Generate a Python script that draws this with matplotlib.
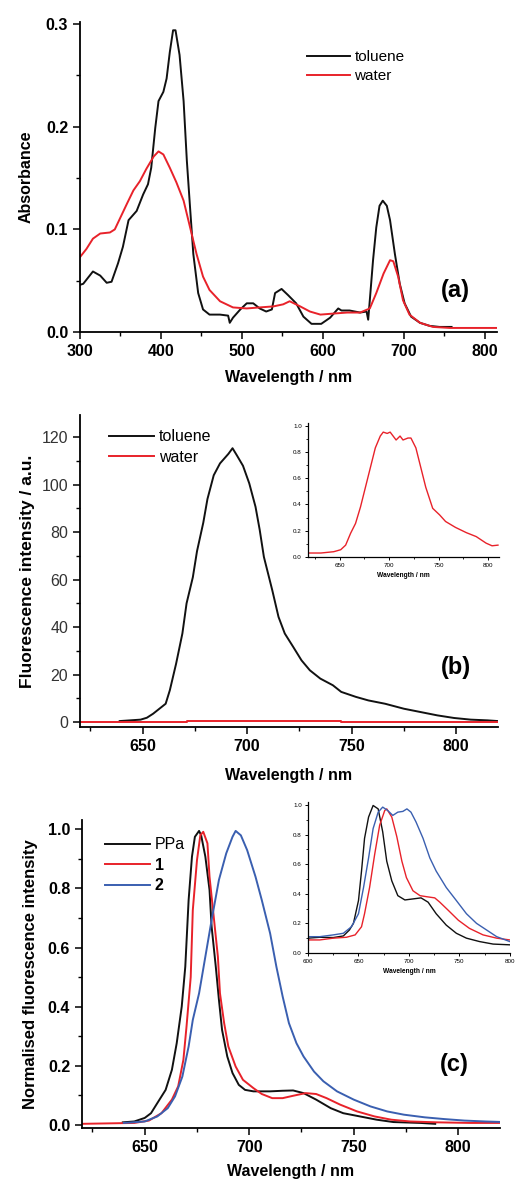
import matplotlib
matplotlib.use("Agg")
import matplotlib.pyplot as plt
from matplotlib.ticker import MultipleLocator

plt.rcParams["font.family"] = ["Liberation Sans", "DejaVu Sans"]

# ---- panel (a): absorbance ----
abs_tol_x = [300, 304, 316, 325, 333, 339, 347, 353, 360, 370, 378, 384, 388, 393, 397, 403,
             407, 411, 415, 418, 423, 428, 432, 436, 440, 446, 452, 460, 473, 483, 485, 489,
             498, 506, 514, 522, 530, 537, 541, 549, 557, 567, 576, 586, 598, 609, 619, 623,
             633, 646, 654, 656, 658, 662, 666, 670, 674, 679, 683, 689, 695, 701, 709, 720,
             732, 744, 759]
abs_tol_y = [0.046, 0.047, 0.059, 0.055, 0.048, 0.049, 0.067, 0.083, 0.109, 0.118, 0.134, 0.144,
             0.160, 0.199, 0.225, 0.234, 0.247, 0.273, 0.294, 0.294, 0.270, 0.225, 0.167, 0.121,
             0.076, 0.038, 0.022, 0.017, 0.017, 0.016, 0.009, 0.014, 0.022, 0.028, 0.028, 0.023,
             0.020, 0.022, 0.038, 0.042, 0.036, 0.028, 0.015, 0.008, 0.008, 0.014, 0.023, 0.021,
             0.021, 0.019, 0.020, 0.012, 0.031, 0.070, 0.102, 0.123, 0.128, 0.123, 0.109, 0.076,
             0.047, 0.028, 0.015, 0.009, 0.006, 0.005, 0.005]
abs_wat_x = [300, 308, 316, 325, 337, 343, 349, 358, 366, 374, 382, 391, 397, 403, 411, 419,
             428, 436, 444, 452, 460, 473, 489, 506, 522, 539, 551, 559, 572, 584, 597, 613,
             630, 646, 658, 666, 675, 683, 687, 693, 699, 707, 720, 736, 757, 814]
abs_wat_y = [0.073, 0.081, 0.091, 0.096, 0.097, 0.100, 0.110, 0.125, 0.138, 0.147, 0.159, 0.171,
             0.176, 0.173, 0.160, 0.146, 0.128, 0.102, 0.076, 0.054, 0.041, 0.030, 0.024, 0.023,
             0.024, 0.025, 0.027, 0.030, 0.025, 0.020, 0.017, 0.018, 0.019, 0.019, 0.023, 0.038,
             0.057, 0.070, 0.069, 0.054, 0.031, 0.017, 0.009, 0.005, 0.004, 0.004]

# ---- panel (b): fluorescence in toluene / water ----
fl_tol_x = [639, 649, 652, 655, 658, 661, 663, 666, 669, 671, 674, 676, 679, 681, 684, 687, 691,
            693, 695, 698, 701, 704, 706, 708, 712, 715, 718, 722, 726, 730, 735, 741, 745, 752,
            758, 766, 775, 783, 791, 799, 807, 815, 820]
fl_tol_y = [0.4, 1.0, 1.8, 3.5, 5.6, 7.7, 13.4, 24.6, 37.3, 50, 61, 72, 84, 94, 104, 109, 113,
            115.4, 112.5, 108, 100.6, 90.7, 81, 69.6, 55.6, 44.3, 37.3, 31.7, 26, 21.8, 18.3, 15.5,
            12.7, 10.6, 9.1, 7.7, 5.6, 4.2, 2.8, 1.7, 1.0, 0.7, 0.4]
fl_wat_x = [620, 671, 671, 745, 745, 820]
fl_wat_y = [0.1, 0.1, 0.6, 0.6, 0.1, 0.1]
# inset: water spectrum, normalised
ins_b_x = [619, 631, 644, 651, 656, 661, 666, 671, 676, 681, 686, 691, 694, 698, 701, 704, 707,
           711, 714, 719, 722, 727, 732, 737, 744, 751, 757, 767, 778, 788, 798, 804, 810]
ins_b_y = [0.03, 0.03, 0.04, 0.055, 0.09, 0.18, 0.255, 0.38, 0.53, 0.68, 0.83, 0.92, 0.95, 0.94,
           0.95, 0.92, 0.89, 0.92, 0.89, 0.905, 0.905, 0.83, 0.68, 0.53, 0.37, 0.32, 0.27, 0.225,
           0.185, 0.155, 0.105, 0.085, 0.09]

# ---- panel (c): normalised fluorescence ----
ppa_x = [639.5, 645, 650, 653, 656, 660, 663, 665.3, 667.7, 669.4, 671, 672.6, 674, 676, 677,
         679, 681, 682, 684, 685.5, 687, 689.5, 692, 695, 698, 702, 710, 716, 721, 726, 732, 739,
         745, 753, 761, 769, 782, 789]
ppa_y = [0.008, 0.011, 0.023, 0.039, 0.073, 0.118, 0.186, 0.276, 0.40, 0.535, 0.761, 0.908, 0.975,
         0.995, 0.98, 0.908, 0.795, 0.671, 0.535, 0.423, 0.321, 0.231, 0.175, 0.135, 0.118, 0.113,
         0.113, 0.115, 0.116, 0.107, 0.085, 0.056, 0.039, 0.028, 0.017, 0.009, 0.006, 0.003]
c1_x = [620, 645, 652, 658, 663, 666, 668.5, 670, 672, 673, 675, 676.6, 678, 680, 681, 683, 685,
        686, 688, 690, 693.5, 697, 702, 706, 711, 716, 721, 727, 732, 737, 743.5, 751.6, 760, 768,
        777, 790, 806, 822]
c1_y = [0.003, 0.006, 0.014, 0.039, 0.085, 0.13, 0.22, 0.333, 0.50, 0.727, 0.896, 0.98, 0.992,
        0.953, 0.84, 0.705, 0.569, 0.445, 0.344, 0.265, 0.197, 0.152, 0.124, 0.104, 0.09, 0.09,
        0.098, 0.107, 0.104, 0.09, 0.068, 0.045, 0.028, 0.017, 0.011, 0.008, 0.006, 0.006]
c2_x = [640, 650, 656, 661, 664.5, 668, 671, 673, 676, 679, 682, 685.5, 689, 692, 693.5, 696, 699,
        703, 706, 710, 713, 716, 719, 722.6, 726, 731, 735.5, 742, 750, 758, 766, 774, 784, 793.5,
        803, 813, 822]
c2_y = [0.006, 0.011, 0.028, 0.056, 0.096, 0.163, 0.265, 0.355, 0.445, 0.569, 0.693, 0.829, 0.919,
        0.975, 0.995, 0.98, 0.93, 0.84, 0.761, 0.648, 0.535, 0.434, 0.344, 0.276, 0.231, 0.18,
        0.147, 0.113, 0.085, 0.062, 0.045, 0.034, 0.025, 0.019, 0.014, 0.011, 0.009]
# inset (c)
ins_ppa_x = [600, 611.6, 625, 635, 641, 645, 650, 653, 656, 660, 664.5, 669.5, 674, 678, 683, 689,
             696, 704, 712, 719, 727, 737, 747, 757, 770, 783.5, 800]
ins_ppa_y = [0.10, 0.106, 0.104, 0.115, 0.155, 0.20, 0.354, 0.553, 0.774, 0.918, 0.996, 0.973,
             0.818, 0.62, 0.487, 0.387, 0.358, 0.365, 0.372, 0.343, 0.265, 0.188, 0.133, 0.10,
             0.077, 0.06, 0.055]
ins_c1_x = [600, 611.6, 625, 638, 646.7, 653, 656, 661, 666, 671, 676, 678, 683, 688, 693, 697.5,
            704, 711, 717.5, 725.6, 730.6, 739, 749, 760, 773.5, 787, 800]
ins_c1_y = [0.088, 0.088, 0.10, 0.106, 0.122, 0.177, 0.265, 0.442, 0.664, 0.863, 0.962, 0.973,
            0.918, 0.785, 0.62, 0.509, 0.42, 0.387, 0.38, 0.372, 0.343, 0.288, 0.221, 0.166,
            0.122, 0.10, 0.088]
ins_c2_x = [600, 611.6, 625, 635, 643, 650, 655, 660, 664.5, 669.5, 674, 679, 684, 689, 694, 698,
            702, 707, 714, 720.7, 727, 737, 747, 757, 767, 777, 787, 800]
ins_c2_y = [0.11, 0.11, 0.122, 0.133, 0.177, 0.265, 0.442, 0.642, 0.84, 0.951, 0.985, 0.962,
            0.929, 0.951, 0.956, 0.973, 0.951, 0.885, 0.774, 0.642, 0.553, 0.442, 0.354, 0.265,
            0.20, 0.155, 0.11, 0.077]

BLACK = "#111111"
RED = "#e8222a"
BLUE = "#3a5fb0"
LW = 1.4


def style_axes(ax, tick_size=11.5, bold_x=True, bold_y=True, ycolor="black"):
    ax.spines["top"].set_visible(False)
    ax.spines["right"].set_visible(False)
    for s in ("left", "bottom"):
        ax.spines[s].set_linewidth(1.3)
    ax.tick_params(which="major", direction="out", length=5, width=1.1, labelsize=tick_size)
    ax.tick_params(which="minor", direction="out", length=3, width=1.0)
    for lab in ax.get_xticklabels():
        lab.set_fontweight("bold" if bold_x else "normal")
    for lab in ax.get_yticklabels():
        lab.set_fontweight("bold" if bold_y else "normal")
        lab.set_color(ycolor)


def style_inset(ax):
    ax.spines["top"].set_visible(False)
    ax.spines["right"].set_visible(False)
    for s in ("left", "bottom"):
        ax.spines[s].set_linewidth(0.9)
    ax.tick_params(which="major", direction="out", length=2.5, width=0.7, labelsize=4.5, pad=2)
    ax.tick_params(which="minor", direction="out", length=1.5, width=0.6)
    ax.set_xlabel("Wavelength / nm", fontsize=4.8, fontweight="bold", labelpad=3)


fig = plt.figure(figsize=(5.16, 11.8), dpi=100)

# (a)
ax_a = fig.add_axes([0.155, 0.7186, 0.808, 0.2627])
ax_a.plot(abs_tol_x, abs_tol_y, color=BLACK, lw=LW, label="toluene")
ax_a.plot(abs_wat_x, abs_wat_y, color=RED, lw=LW, label="water")
ax_a.set_xlim(300, 815)
ax_a.set_ylim(0, 0.302)
ax_a.xaxis.set_major_locator(MultipleLocator(100))
ax_a.xaxis.set_minor_locator(MultipleLocator(50))
ax_a.yaxis.set_major_locator(MultipleLocator(0.1))
ax_a.yaxis.set_minor_locator(MultipleLocator(0.05))
ax_a.yaxis.set_major_formatter(plt.FuncFormatter(lambda v, p: f"{v:.1f}"))
ax_a.set_xlabel("Wavelength / nm", fontsize=11.5, fontweight="bold", labelpad=8)
ax_a.set_ylabel("Absorbance", fontsize=11.5, fontweight="bold", labelpad=9)
style_axes(ax_a)
ax_a.legend(loc="upper left", bbox_to_anchor=(0.53, 0.93), frameon=False, fontsize=11,
            handlelength=2.8, handletextpad=0.3, labelspacing=0.35, borderaxespad=0)
ax_a.text(0.9, 0.135, "(a)", transform=ax_a.transAxes, fontsize=17, fontweight="bold",
          ha="center", va="center")

# (b)
ax_b = fig.add_axes([0.155, 0.3839, 0.810, 0.2644])
ax_b.plot(fl_tol_x, fl_tol_y, color=BLACK, lw=LW, label="toluene")
ax_b.plot(fl_wat_x, fl_wat_y, color=RED, lw=LW, label="water")
ax_b.set_xlim(620, 820)
ax_b.set_ylim(-2.1, 129.4)
ax_b.xaxis.set_major_locator(MultipleLocator(50))
ax_b.xaxis.set_minor_locator(MultipleLocator(25))
ax_b.yaxis.set_major_locator(MultipleLocator(20))
ax_b.yaxis.set_minor_locator(MultipleLocator(10))
ax_b.set_xlabel("Wavelength / nm", fontsize=11.5, fontweight="bold", labelpad=10)
ax_b.set_ylabel("Fluorescence intensity / a.u.", fontsize=12.5, fontweight="bold", labelpad=5)
style_axes(ax_b, bold_y=False, ycolor="#333333")
ax_b.legend(loc="upper left", bbox_to_anchor=(0.055, 0.975), frameon=False, fontsize=11.5,
            handlelength=2.8, handletextpad=0.3, labelspacing=0.35, borderaxespad=0)
ax_b.text(0.9, 0.19, "(b)", transform=ax_b.transAxes, fontsize=17, fontweight="bold",
          ha="center", va="center")

ins_b = fig.add_axes([0.597, 0.528, 0.370, 0.1136])
ins_b.plot(ins_b_x, ins_b_y, color=RED, lw=1.0)
ins_b.set_xlim(618, 811)
ins_b.set_ylim(0, 1.02)
ins_b.xaxis.set_major_locator(MultipleLocator(50))
ins_b.xaxis.set_minor_locator(MultipleLocator(25))
ins_b.yaxis.set_major_locator(MultipleLocator(0.2))
ins_b.yaxis.set_minor_locator(MultipleLocator(0.1))
ins_b.yaxis.set_major_formatter(plt.FuncFormatter(lambda v, p: f"{v:.1f}"))
style_inset(ins_b)

# (c)
ax_c = fig.add_axes([0.159, 0.0441, 0.810, 0.261])
ax_c.plot(ppa_x, ppa_y, color=BLACK, lw=LW, label="PPa")
ax_c.plot(c1_x, c1_y, color=RED, lw=LW, label="1")
ax_c.plot(c2_x, c2_y, color=BLUE, lw=LW, label="2")
ax_c.set_xlim(620, 820)
ax_c.set_ylim(-0.011, 1.032)
ax_c.xaxis.set_major_locator(MultipleLocator(50))
ax_c.xaxis.set_minor_locator(MultipleLocator(25))
ax_c.yaxis.set_major_locator(MultipleLocator(0.2))
ax_c.yaxis.set_minor_locator(MultipleLocator(0.1))
ax_c.yaxis.set_major_formatter(plt.FuncFormatter(lambda v, p: f"{v:.1f}"))
ax_c.set_xlabel("Wavelength / nm", fontsize=11.5, fontweight="bold", labelpad=7)
ax_c.set_ylabel("Normalised fluorescence intensity", fontsize=12, fontweight="bold", labelpad=7)
style_axes(ax_c)
leg = ax_c.legend(loc="upper left", bbox_to_anchor=(0.04, 0.965), frameon=False, fontsize=11.5,
                  handlelength=2.8, handletextpad=0.3, labelspacing=0.35, borderaxespad=0)
for t in leg.get_texts()[1:]:
    t.set_fontweight("bold")
ax_c.text(0.89, 0.205, "(c)", transform=ax_c.transAxes, fontsize=17, fontweight="bold",
          ha="center", va="center")

ins_c = fig.add_axes([0.597, 0.1924, 0.391, 0.128])
ins_c.plot(ins_ppa_x, ins_ppa_y, color=BLACK, lw=1.0)
ins_c.plot(ins_c1_x, ins_c1_y, color=RED, lw=1.0)
ins_c.plot(ins_c2_x, ins_c2_y, color=BLUE, lw=1.0)
ins_c.set_xlim(600, 800)
ins_c.set_ylim(0, 1.02)
ins_c.xaxis.set_major_locator(MultipleLocator(50))
ins_c.xaxis.set_minor_locator(MultipleLocator(25))
ins_c.yaxis.set_major_locator(MultipleLocator(0.2))
ins_c.yaxis.set_minor_locator(MultipleLocator(0.1))
ins_c.yaxis.set_major_formatter(plt.FuncFormatter(lambda v, p: f"{v:.1f}"))
style_inset(ins_c)

fig.savefig("out.png", dpi=100)
